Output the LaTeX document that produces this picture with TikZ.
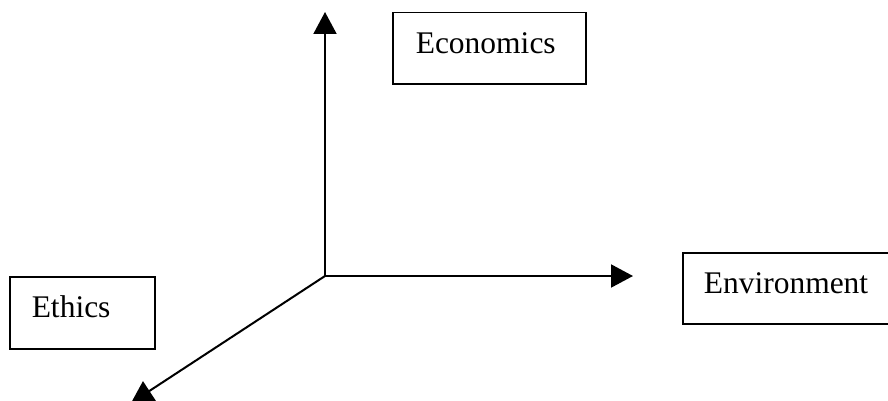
\documentclass[tikz,border=0pt]{standalone}
\usepackage{fontspec}
\setmainfont{Liberation Serif}
\usetikzlibrary{arrows.meta}
\begin{document}
\begin{tikzpicture}[x=1pt,y=1pt,
  axis/.style={line width=2pt,-{Triangle[length=22pt,width=23pt]}},
  labelbox/.style={draw,line width=1.5pt,anchor=north west,inner ysep=0pt,
    align=left,text height=41pt,text depth=30pt,
    font=\fontsize{31.5}{36}\selectfont}
]
\useasboundingbox (0,0) rectangle (888,400);
\clip (0,0) rectangle (888,400);
\coordinate (O) at (325,124);
\coordinate (up) at (325,388);
\coordinate (right) at (633,124);
\coordinate (downleft) at (131,-3);
\draw[axis] (O) -- (up);
\draw[axis] (O) -- (right);
\draw[axis] (O) -- (downleft);
\node[labelbox,inner xsep=23pt,text width=147pt,minimum height=71pt] (econ) at (392,388) {Economics};
\node[labelbox,inner xsep=21pt,text width=180pt,minimum height=71pt] (env) at (682,148) {Environment};
\node[labelbox,inner xsep=22pt,text width=101pt,minimum height=72pt,text depth=31pt] (eth) at (9,124) {Ethics};
\end{tikzpicture}
\end{document}
